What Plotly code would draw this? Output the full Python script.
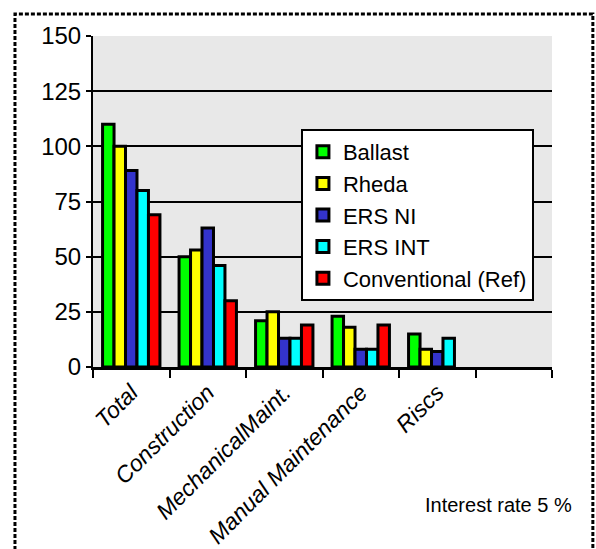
import plotly.graph_objects as go

# Cost categories (last slot is left empty on the axis)
categories = ["Total", "Construction", "MechanicalMaint.", "Manual Maintenance", "Riscs", " "]

# Series values per category
ballast = [110, 50, 21, 23, 15, None]
rheda = [100, 53, 25, 18, 8, None]
ers_ni = [89, 63, 13, 8, 7, None]
ers_int = [80, 46, 13, 8, 13, None]
conventional = [69, 30, 19, 19, None, None]

series_names = ["Ballast", "Rheda", "ERS NI", "ERS INT", "Conventional (Ref)"]
series_values = [ballast, rheda, ers_ni, ers_int, conventional]
series_colors = ["#00FF00", "#FFFF00", "#3333CC", "#00FFFF", "#FF0000"]

y_ticks = [0, 25, 50, 75, 100, 125, 150]

FONT = "Liberation Sans, Arial, sans-serif"

fig = go.Figure()
for name, vals, col in zip(series_names, series_values, series_colors):
    fig.add_trace(go.Bar(
        x=categories, y=vals, name=name,
        marker=dict(color=col, line=dict(color="black", width=3)),
    ))

fig.update_layout(
    width=596, height=549,
    margin=dict(l=93, r=44, t=36, b=182),
    paper_bgcolor="white",
    plot_bgcolor="#E8E8E8",
    barmode="group",
    bargap=0.25,
    bargroupgap=0,
    font=dict(family=FONT, color="black"),
    showlegend=True,
    legend=dict(
        x=0.453, y=0.719, xanchor="left", yanchor="top",
        bgcolor="white", bordercolor="black", borderwidth=2,
        font=dict(family=FONT, size=22, color="black"),
        tracegroupgap=0,
    ),
    xaxis=dict(
        type="category",
        categoryorder="array", categoryarray=categories,
        range=[-0.5, 5.5],
        tickson="boundaries",
        ticks="outside", ticklen=8, tickwidth=2, tickcolor="black",
        showline=True, linecolor="black", linewidth=3,
        showgrid=False,
        tickangle=-45,
        automargin=False,
        tickfont=dict(family=FONT, size=23, style="italic", color="black"),
    ),
    yaxis=dict(
        range=[0, 150],
        tickvals=y_ticks,
        ticks="outside", ticklen=5, tickwidth=2, tickcolor="black",
        showline=True, linecolor="black", linewidth=2,
        showgrid=True, gridcolor="black", gridwidth=2,
        zeroline=False,
        automargin=False,
        tickfont=dict(family=FONT, size=24, color="black"),
    ),
    annotations=[dict(
        text="Interest rate 5 %", xref="paper", yref="paper",
        x=1.047, y=-0.418, xanchor="right", yanchor="middle",
        showarrow=False, font=dict(family=FONT, size=20, color="black"),
    )],
    shapes=[dict(
        type="rect", xref="paper", yref="paper",
        x0=-0.170, x1=1.089, y0=-0.65, y1=1.0665,
        line=dict(color="black", width=3, dash="4px,2px"),
        fillcolor="rgba(0,0,0,0)",
    )],
)

fig.write_html("out.html")
